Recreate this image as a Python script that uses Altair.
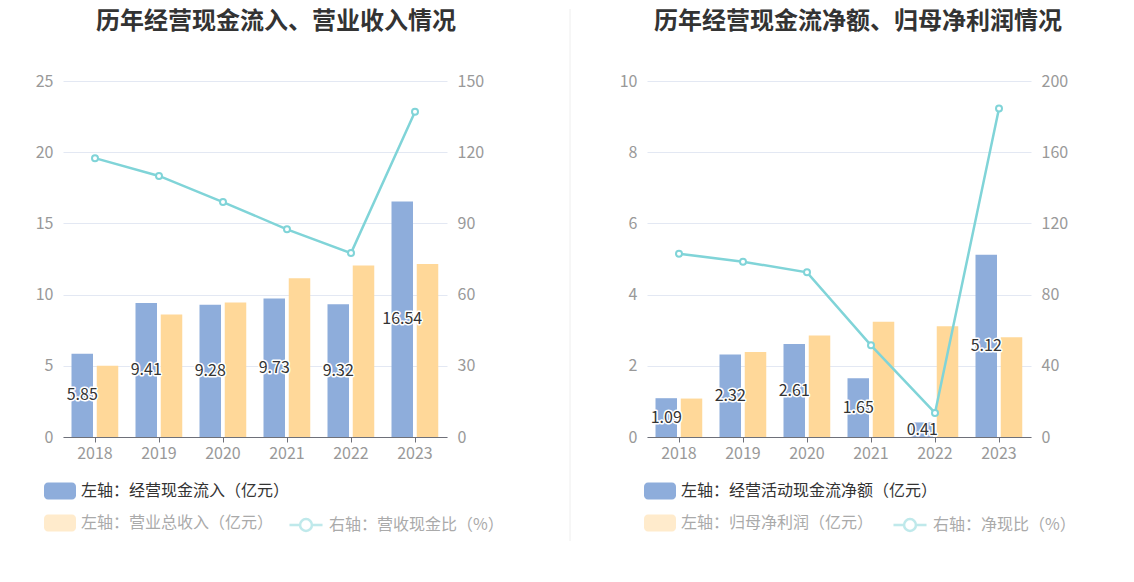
import altair as alt
import pandas as pd

FONT = "Noto Sans CJK SC"
BLUE = "#8eaddb"
ORANGE = "#ffd899"
TEAL = "#80d4d8"

years = ["2018", "2019", "2020", "2021", "2022", "2023"]

# Left panel
cash_inflow = [5.85, 9.41, 9.28, 9.73, 9.32, 16.54]
revenue = [5.0, 8.6, 9.45, 11.15, 12.05, 12.15]
cash_ratio = [117.5, 110.0, 99.0, 87.5, 77.5, 137.0]

# Right panel
net_cash = [1.09, 2.32, 2.61, 1.65, 0.41, 5.12]
net_profit = [1.08, 2.39, 2.85, 3.24, 3.11, 2.80]
net_ratio = [103.0, 98.5, 92.5, 51.5, 13.5, 184.5]

RECT_PATH = ("M-0.75,-0.53L0.75,-0.53A0.25,0.25,0,0,1,1,-0.28L1,0.28"
             "A0.25,0.25,0,0,1,0.75,0.53L-0.75,0.53A0.25,0.25,0,0,1,-1,0.28"
             "L-1,-0.28A0.25,0.25,0,0,1,-0.75,-0.53Z")
LINE_PATH = ("M-1,0L-0.36,0M0.36,0L1,0M-0.36,0A0.36,0.36,0,1,1,0.36,0"
             "A0.36,0.36,0,1,1,-0.36,0Z")


def panel(title, a_name, a_vals, b_name, b_vals, r_name, r_vals,
          ymax, ystep, rmax, rstep, title_x, blue_lx, line_lx, sep=False):
    bars = pd.DataFrame({
        "year": years * 2,
        "series": [a_name] * len(years) + [b_name] * len(years),
        "value": list(a_vals) + list(b_vals),
    })
    bars["mid"] = bars["value"] / 2
    line = pd.DataFrame({"year": years, "series": [r_name] * len(years), "ratio": r_vals})

    x_enc = alt.X("year:N", title=None, sort=years,
                  scale=alt.Scale(paddingInner=0, paddingOuter=0),
                  axis=alt.Axis(labelAngle=0, labelColor="#999999", labelFontSize=16,
                                labelFont=FONT, labelPadding=3, domainColor="#6e7079",
                                tickColor="#6e7079", tickSize=5, ticks=True, grid=False))
    y_axis = alt.Axis(values=list(range(0, ymax + 1, ystep)), title=None,
                      labelColor="#999999", labelFontSize=16, labelFont=FONT,
                      labelPadding=10, ticks=False, domain=False,
                      gridColor="#e3e8f3", grid=True)
    y_scale = alt.Scale(domain=[0, ymax], nice=False)
    y_enc = alt.Y("value:Q", scale=y_scale, axis=y_axis)
    r_enc = alt.Y("ratio:Q", scale=alt.Scale(domain=[0, rmax], nice=False),
                  axis=alt.Axis(orient="right", values=list(range(0, rmax + 1, rstep)),
                                title=None, labelColor="#999999", labelFontSize=16,
                                labelFont=FONT, labelPadding=10, ticks=False,
                                domain=False, grid=False))

    base = alt.Chart(bars)
    bar_a = base.transform_filter(alt.datum.series == a_name).mark_bar(
        width=21.5, xOffset=-12.75).encode(
        x=x_enc, y=y_enc,
        color=alt.Color("series:N", scale=alt.Scale(domain=[a_name], range=[BLUE]),
                        legend=alt.Legend(title=None, orient="none", legendX=blue_lx,
                                          legendY=394, direction="vertical",
                                          symbolType=RECT_PATH, symbolSize=1024,
                                          symbolStrokeWidth=0, labelFontSize=16,
                                          labelFont=FONT, labelColor="#333333",
                                          labelOffset=5, labelLimit=500, padding=0)))
    bar_b = base.transform_filter(alt.datum.series == b_name).mark_bar(
        width=21.5, xOffset=12.5).encode(
        x=x_enc, y=y_enc,
        fill=alt.Fill("series:N", scale=alt.Scale(domain=[b_name], range=[ORANGE]),
                      legend=alt.Legend(title=None, orient="none", legendX=blue_lx,
                                        legendY=426, direction="vertical",
                                        symbolType=RECT_PATH, symbolSize=1024,
                                        symbolStrokeWidth=0, symbolOpacity=0.5,
                                        labelFontSize=16, labelFont=FONT,
                                        labelColor="#aaaaaa", labelOffset=5,
                                        labelLimit=500, padding=0)))
    lbl_base = base.transform_filter(alt.datum.series == a_name)
    lbl_enc = dict(x=x_enc, y=alt.Y("mid:Q", scale=y_scale, axis=y_axis),
                   text=alt.Text("value:Q", format=".2f"))
    halo = lbl_base.mark_text(font=FONT, fontSize=16, fill="white", stroke="white",
                              strokeWidth=3, strokeJoin="round",
                              xOffset=-12.75).encode(**lbl_enc)
    lbl = lbl_base.mark_text(font=FONT, fontSize=16, color="#333333",
                             xOffset=-12.75).encode(**lbl_enc)

    ttl = alt.Chart(pd.DataFrame({"t": [title]})).mark_text(
        font=FONT, fontSize=24, fontWeight="bold", color="#333333",
        align="center", baseline="middle").encode(
        x=alt.value(title_x), y=alt.value(-59), text="t:N")

    lbase = alt.Chart(line)
    ln = lbase.mark_line(strokeWidth=2.5).encode(
        x=x_enc, y=r_enc,
        stroke=alt.Stroke("series:N", scale=alt.Scale(domain=[r_name], range=[TEAL]),
                          legend=alt.Legend(title=None, orient="none", legendX=line_lx,
                                            legendY=426, symbolType=LINE_PATH,
                                            symbolSize=1089, symbolStrokeWidth=2.5,
                                            symbolFillColor="white", symbolOpacity=0.5,
                                            labelFontSize=16, labelFont=FONT,
                                            labelColor="#aaaaaa", labelOffset=5,
                                            labelLimit=500, padding=0)))
    pts = lbase.mark_point(shape="circle", size=36, filled=False, fill="white",
                           fillOpacity=1, stroke=TEAL, strokeWidth=2,
                           opacity=1).encode(x=x_enc, y=r_enc)

    left_layers = [bar_a, bar_b, halo, lbl, ttl]
    if sep:
        rule = alt.Chart(pd.DataFrame({"k": [0]})).mark_rule(
            color="#eeeeee", strokeWidth=1).encode(
            x=alt.value(-77), y=alt.value(-72), y2=alt.value(460))
        left_layers = [rule] + left_layers
    left = alt.layer(*left_layers)
    right = alt.layer(ln, pts)

    return alt.layer(left, right).resolve_scale(y="independent").properties(
        width=384, height=356)


p1 = panel("历年经营现金流入、营业收入情况",
           "左轴：经营现金流入（亿元）", cash_inflow,
           "左轴：营业总收入（亿元）", revenue,
           "右轴：营收现金比（%）", cash_ratio,
           25, 5, 150, 30, 213, -19, 225)
p2 = panel("历年经营现金流净额、归母净利润情况",
           "左轴：经营活动现金流净额（亿元）", net_cash,
           "左轴：归母净利润（亿元）", net_profit,
           "右轴：净现比（%）", net_ratio,
           10, 2, 200, 40, 211, -3, 245, sep=True)

chart = alt.hconcat(p1, p2, spacing=200, bounds="flush").resolve_scale(
    color="independent", fill="independent", stroke="independent"
).properties(
    padding={"left": 27, "top": 0, "right": 5, "bottom": 5},
    background="white",
).configure_view(stroke=None)

chart.save("out.html", embed_options={"renderer": "svg", "actions": False})
